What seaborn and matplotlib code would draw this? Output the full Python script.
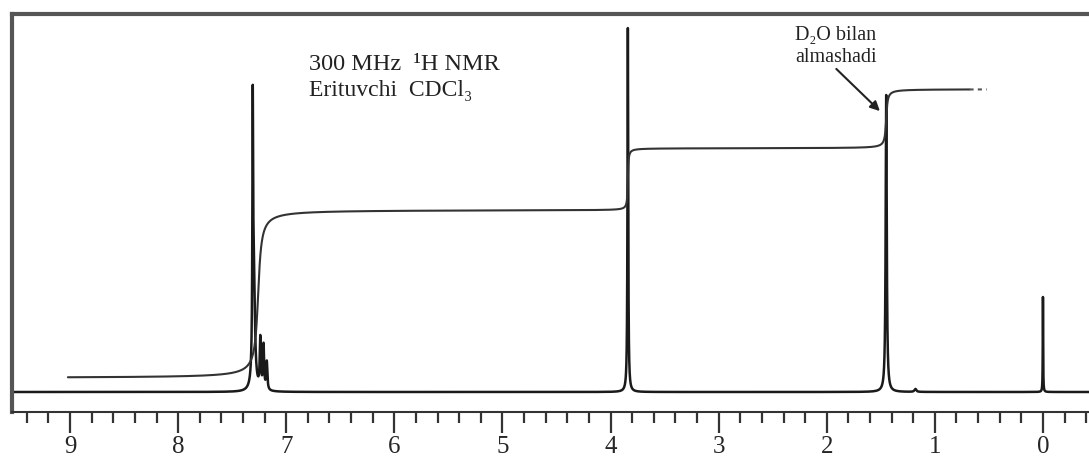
import numpy as np
import pandas as pd
import matplotlib
matplotlib.use("Agg")
import matplotlib.pyplot as plt
import seaborn as sns

# Peak list: shift (ppm), height (px-like units), half-width (ppm)
peak_shifts = [7.31, 7.30, 7.24, 7.21, 7.18, 3.84, 1.45, 0.00, 1.18]
peak_heights = [240, 112, 50, 44, 28, 364, 297, 95, 3]
peak_widths = [0.004, 0.012, 0.006, 0.006, 0.006, 0.004, 0.006, 0.002, 0.01]

# Integral trace: starting level, step positions, step heights, step widths
integral_base = 14
integral_shifts = [7.26, 3.84, 1.45]
integral_steps = [168, 62, 59]
integral_widths = [0.023, 0.005, 0.010]
integral_start, integral_end, integral_dots = 9.02, 0.68, 0.52

tick_labels = ["9", "8", "7", "6", "5", "4", "3", "2", "1", "0"]

sns.set_theme(style="white")
plt.rcParams["font.family"] = ["Liberation Serif", "DejaVu Serif"]

ppm = np.linspace(9.6, -0.45, 40000)
spec = np.zeros_like(ppm)
for d, h, w in zip(peak_shifts, peak_heights, peak_widths):
    spec += h * w**2 / ((ppm - d) ** 2 + w**2)

def integral(x):
    y = np.full_like(x, integral_base, dtype=float)
    for d, h, w in zip(integral_shifts, integral_steps, integral_widths):
        y += h * (0.5 + np.arctan((d - x) / w) / np.pi)
    return y

xi = np.linspace(integral_start, integral_end, 6000)
xd = np.linspace(integral_end, integral_dots, 200)
df_spec = pd.DataFrame({"ppm": ppm, "signal": spec})
df_int = pd.DataFrame({"ppm": xi, "signal": integral(xi)})
df_dot = pd.DataFrame({"ppm": xd, "signal": integral(xd)})

fig = plt.figure(figsize=(10.89, 4.61), dpi=100)
ax = fig.add_axes([12 / 1089, 49 / 461, 1077 / 1089, 398 / 461])

sns.lineplot(data=df_spec, x="ppm", y="signal", ax=ax, color="#1a1a1a",
             linewidth=1.8, estimator=None, sort=False)
sns.lineplot(data=df_int, x="ppm", y="signal", ax=ax, color="#333333",
             linewidth=1.5, estimator=None, sort=False)
sns.lineplot(data=df_dot, x="ppm", y="signal", ax=ax, color="#555555",
             linewidth=1.5, linestyle=(0, (2, 2)), estimator=None, sort=False)

ax.set_xlim(9.537, -0.426)
ax.set_ylim(-20, 378)
ax.set_xlabel("")
ax.set_ylabel("")
ax.set_yticks([])
ax.set_xticks(range(9, -1, -1))
ax.set_xticklabels(tick_labels, fontsize=18)
ax.set_xticks(np.arange(-0.4, 9.6, 0.2), minor=True)
ax.tick_params(axis="x", which="major", direction="out", length=15, width=1.6,
               color="#333333", pad=2, bottom=True)
ax.tick_params(axis="x", which="minor", direction="out", length=8, width=1.6,
               color="#333333", bottom=True)

for side in ["left", "top"]:
    ax.spines[side].set_linewidth(3)
    ax.spines[side].set_color("#555555")
ax.spines["bottom"].set_linewidth(1.5)
ax.spines["bottom"].set_color("#333333")
ax.spines["right"].set_visible(False)

ax.text(6.79, 322, "300 MHz  \u00b9H NMR", fontsize=17.5, color="#222222", va="baseline")
ax.text(6.79, 296, "Erituvchi  CDCl\u2083", fontsize=17, color="#222222", va="baseline")
ax.text(2.29, 352, "D\u2082O bilan", fontsize=14.5, color="#222222", va="baseline")
ax.text(2.29, 330, "almashadi", fontsize=14.5, color="#222222", va="baseline")
ax.annotate("", xy=(1.49, 279), xytext=(1.93, 325),
            arrowprops=dict(arrowstyle="-|>", color="#222222", lw=1.5,
                            mutation_scale=14))

fig.savefig("out.png", dpi=100)
